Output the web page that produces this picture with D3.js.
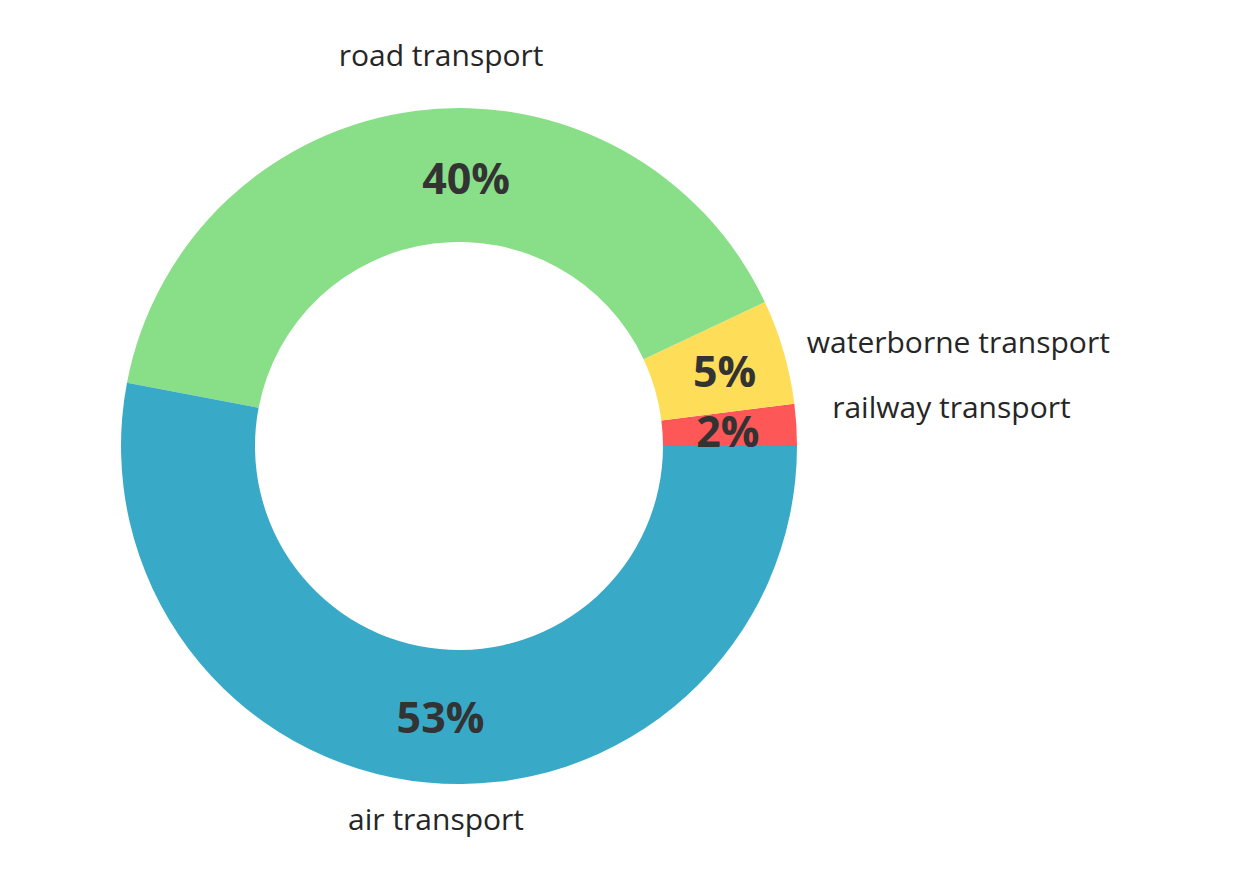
<!DOCTYPE html>
<html>
<head>
<meta charset="utf-8">
<script src="https://d3js.org/d3.v7.min.js"></script>
<style>
  html, body { margin: 0; padding: 0; background: #ffffff; }
</style>
</head>
<body>
<svg id="chart"></svg>
<script>
  // Shares of each transport mode (percent)
  const categories = ["railway transport", "waterborne transport", "road transport", "air transport"];
  const shares = [2, 5, 40, 53];
  const colors = ["#fe5757", "#fede59", "#89df87", "#38aac8"];

  const width = 1250;
  const height = 881;
  const cx = 459, cy = 446;
  const outerR = 338;
  const innerR = 204;

  // small hand tweaks so the texts sit where the original put them
  const pctShift = [[-1, 2], [6, 1], [41, 1], [7, 2]];
  const labelShift = [[-8, -4], [-19, 14], [30, -1], [13, 4]];
  const labelAnchor = ["start", "start", "middle", "middle"];

  const svg = d3.select("#chart")
    .attr("width", width)
    .attr("height", height);

  const g = svg.append("g")
    .attr("transform", `translate(${cx},${cy})`);

  // slices run counter-clockwise starting at 3 o'clock
  const pie = d3.pie()
    .value(d => d.value)
    .sort(null)
    .startAngle(Math.PI / 2)
    .endAngle(Math.PI / 2 - 2 * Math.PI);

  const data = categories.map((c, i) => ({ name: c, value: shares[i], i }));
  const arcs = pie(data);

  const arc = d3.arc().innerRadius(innerR).outerRadius(outerR);
  const pctArc = d3.arc().innerRadius(outerR * 0.8).outerRadius(outerR * 0.8);
  const labelArc = d3.arc().innerRadius(outerR * 1.13).outerRadius(outerR * 1.13);

  g.selectAll("path.slice")
    .data(arcs)
    .enter()
    .append("path")
    .attr("class", "slice")
    .attr("d", arc)
    .attr("fill", d => colors[d.data.i]);

  // percentage inside ring
  g.selectAll("text.pct")
    .data(arcs)
    .enter()
    .append("text")
    .attr("class", "pct")
    .attr("x", d => pctArc.centroid(d)[0] + pctShift[d.data.i][0])
    .attr("y", d => pctArc.centroid(d)[1] + pctShift[d.data.i][1])
    .attr("dy", "0.36em")
    .attr("text-anchor", "middle")
    .attr("font-family", "'Open Sans', sans-serif")
    .attr("font-weight", "bold")
    .attr("font-size", 43)
    .attr("fill", "#333333")
    .text(d => d.data.value + "%");

  // category names outside
  g.selectAll("text.label")
    .data(arcs)
    .enter()
    .append("text")
    .attr("class", "label")
    .attr("x", d => labelArc.centroid(d)[0] + labelShift[d.data.i][0])
    .attr("y", d => labelArc.centroid(d)[1] + labelShift[d.data.i][1])
    .attr("text-anchor", d => labelAnchor[d.data.i])
    .attr("font-family", "'Open Sans', sans-serif")
    .attr("font-size", 30)
    .attr("fill", "#262626")
    .text(d => d.data.name);
</script>
</body>
</html>
